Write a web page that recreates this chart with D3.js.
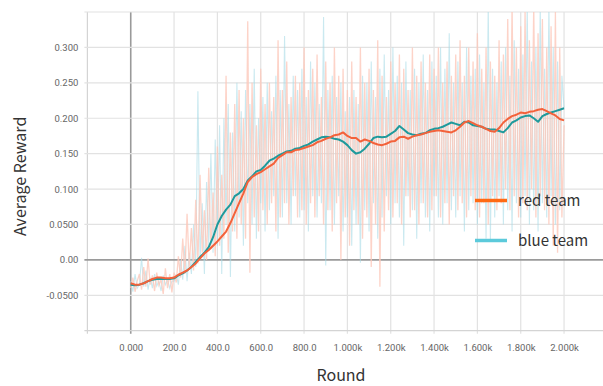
<!DOCTYPE html>
<html>
<head>
<meta charset="utf-8">
<script src="https://cdn.jsdelivr.net/npm/d3@7/dist/d3.min.js"></script>
<style>
  html, body { margin: 0; padding: 0; background: #fff; }
  svg { display: block; }
</style>
</head>
<body>
<svg id="chart" width="603" height="386"></svg>
<script>
// Rounds at which each raw reward sample was recorded (every 10 rounds)
const rawRounds = d3.range(0, 2001, 10);

// Raw average reward per round, red team
const redRaw = [
  -0.040, -0.025, -0.045, -0.030, -0.020, -0.042, -0.010, -0.038, 0.002, -0.035,
  -0.022, -0.044, -0.018, -0.036, -0.028, -0.048, -0.012, -0.040, -0.020, -0.046,
  -0.018, -0.032, 0.005, -0.025, 0.030, -0.020, 0.065, -0.010, 0.045, -0.015,
  0.085, -0.005, 0.120, 0.010, 0.070, 0.000, 0.130, 0.015, 0.095, 0.005,
  0.160, 0.020, 0.120, 0.030, 0.260, 0.010, 0.180, 0.040, 0.220, 0.030,
  0.240, 0.050, 0.200, 0.030, 0.337, -0.018, 0.250, 0.060, 0.190, 0.040,
  0.270, 0.070, 0.220, 0.050, 0.250, 0.080, 0.230, 0.040, 0.310, 0.060,
  0.240, 0.080, 0.280, 0.050, 0.230, 0.090, 0.260, 0.060, 0.250, 0.070,
  0.300, 0.050, 0.240, 0.080, 0.270, 0.060, 0.290, 0.090, 0.230, 0.050,
  0.280, 0.070, 0.250, 0.040, 0.300, 0.080, 0.260, 0.000, 0.270, 0.060,
  0.240, 0.020, 0.280, 0.070, 0.230, 0.050, 0.300, 0.030, 0.250, 0.060,
  0.270, -0.010, 0.240, 0.050, 0.310, -0.038, 0.260, 0.040, 0.230, 0.070,
  0.280, 0.060, 0.250, 0.080, 0.290, 0.050, 0.270, 0.090, 0.240, 0.060,
  0.300, 0.070, 0.260, 0.050, 0.280, 0.080, 0.250, 0.060, 0.290, 0.070,
  0.270, 0.090, 0.300, 0.060, 0.250, 0.080, 0.280, 0.050, 0.260, 0.090,
  0.290, 0.070, 0.310, 0.080, 0.260, 0.060, 0.300, 0.090, 0.280, 0.070,
  0.320, 0.060, 0.270, 0.080, 0.300, 0.050, 0.280, 0.090, 0.260, 0.070,
  0.310, 0.080, 0.290, 0.100, 0.340, 0.070, 0.360, 0.090, 0.300, 0.060,
  0.330, 0.080, 0.350, 0.070, 0.310, 0.100, 0.360, 0.060, 0.320, 0.090,
  0.340, 0.070, 0.300, 0.050, 0.330, 0.020, 0.350, 0.010, 0.300, 0.060,
  0.190
];

// Raw average reward per round, blue team
const blueRaw = [
  -0.030, -0.045, -0.020, -0.040, -0.035, 0.003, -0.038, -0.015, -0.042, -0.025,
  -0.040, -0.020, -0.037, -0.030, -0.044, -0.022, -0.035, -0.028, -0.040, -0.030,
  -0.030, -0.020, -0.035, 0.000, -0.028, 0.020, -0.030, 0.010, -0.020, 0.050,
  -0.010, 0.238, 0.000, 0.080, -0.020, 0.110, 0.020, 0.150, 0.010, 0.170,
  0.020, 0.190, -0.020, 0.200, 0.050, 0.220, -0.024, 0.180, 0.040, 0.250,
  0.060, 0.210, 0.020, 0.240, 0.080, 0.220, 0.050, 0.270, 0.030, 0.200,
  0.080, 0.230, 0.040, 0.250, 0.070, 0.210, 0.090, 0.260, 0.030, 0.240,
  0.060, 0.316, 0.080, 0.220, 0.050, 0.260, 0.090, 0.240, 0.060, 0.270,
  0.070, 0.230, 0.040, 0.280, 0.090, 0.250, 0.060, 0.220, 0.080, 0.343,
  -0.008, 0.240, 0.070, 0.260, 0.050, 0.230, 0.090, 0.250, 0.040, 0.210,
  0.060, 0.230, 0.020, 0.240, 0.050, 0.220, -0.004, 0.260, 0.070, 0.250,
  0.040, 0.280, 0.080, 0.230, 0.030, 0.270, 0.060, 0.290, 0.090, 0.240,
  0.050, 0.300, 0.080, 0.260, 0.060, 0.250, 0.020, 0.280, 0.090, 0.240,
  0.070, 0.270, 0.030, 0.250, 0.080, 0.290, 0.060, 0.240, 0.040, 0.280,
  0.090, 0.260, 0.060, 0.300, 0.050, 0.270, 0.080, 0.320, 0.070, 0.250,
  0.060, 0.280, 0.090, 0.250, 0.040, 0.300, 0.070, 0.260, 0.080, 0.270,
  0.050, 0.290, 0.080, 0.250, 0.030, 0.360, 0.028, 0.270, 0.060, 0.250,
  0.090, 0.280, 0.050, 0.300, 0.070, 0.260, 0.040, 0.310, 0.080, 0.270,
  0.060, 0.290, 0.090, 0.360, 0.050, 0.280, 0.070, 0.300, 0.040, 0.360,
  0.080, 0.270, 0.060, 0.360, 0.090, 0.300, 0.050, 0.280, 0.070, 0.260,
  0.214
];

// Smoothed reward curves (every 20 rounds)
const smoothRounds = d3.range(0, 2001, 20);

const redSmooth = [
  -0.033, -0.035, -0.035, -0.033, -0.030, -0.027, -0.025, -0.025, -0.026, -0.026,
  -0.025, -0.021, -0.018, -0.015, -0.010, -0.005, 0.002, 0.009, 0.014, 0.020,
  0.026, 0.033, 0.040, 0.052, 0.066, 0.080, 0.094, 0.110, 0.117, 0.121,
  0.124, 0.128, 0.132, 0.136, 0.144, 0.148, 0.152, 0.152, 0.155, 0.156,
  0.158, 0.160, 0.162, 0.166, 0.168, 0.171, 0.173, 0.176, 0.177, 0.180,
  0.175, 0.172, 0.172, 0.167, 0.170, 0.168, 0.165, 0.163, 0.162, 0.164,
  0.167, 0.168, 0.173, 0.174, 0.171, 0.174, 0.176, 0.177, 0.179, 0.181,
  0.182, 0.183, 0.182, 0.181, 0.180, 0.183, 0.188, 0.194, 0.196, 0.193,
  0.190, 0.188, 0.185, 0.182, 0.181, 0.186, 0.194, 0.199, 0.203, 0.205,
  0.208, 0.207, 0.209, 0.210, 0.212, 0.213, 0.210, 0.207, 0.204, 0.199,
  0.197
];

const blueSmooth = [
  -0.035, -0.036, -0.035, -0.033, -0.030, -0.028, -0.027, -0.027, -0.027, -0.027,
  -0.026, -0.022, -0.019, -0.015, -0.010, -0.003, 0.004, 0.010, 0.018, 0.032,
  0.050, 0.062, 0.071, 0.078, 0.090, 0.094, 0.100, 0.112, 0.118, 0.125,
  0.127, 0.133, 0.140, 0.143, 0.147, 0.150, 0.153, 0.154, 0.157, 0.158,
  0.161, 0.163, 0.167, 0.170, 0.173, 0.174, 0.173, 0.171, 0.170, 0.167,
  0.162, 0.155, 0.150, 0.152, 0.157, 0.164, 0.172, 0.174, 0.173, 0.174,
  0.178, 0.182, 0.189, 0.184, 0.179, 0.177, 0.176, 0.178, 0.179, 0.183,
  0.185, 0.186, 0.188, 0.191, 0.194, 0.192, 0.190, 0.195, 0.194, 0.190,
  0.189, 0.188, 0.185, 0.184, 0.184, 0.182, 0.180, 0.186, 0.194, 0.197,
  0.201, 0.203, 0.204, 0.200, 0.195, 0.203, 0.206, 0.208, 0.210, 0.212,
  0.214
];

// Axis ticks and their labels
const xTicks = [0, 200, 400, 600, 800, 1000, 1200, 1400, 1600, 1800, 2000];
const xTickLabels = ["0.000", "200.0", "400.0", "600.0", "800.0", "1.000k", "1.200k", "1.400k", "1.600k", "1.800k", "2.000k"];
const yTicks = [-0.05, 0, 0.05, 0.1, 0.15, 0.2, 0.25, 0.3];
const yTickLabels = ["-0.0500", "0.00", "0.0500", "0.100", "0.150", "0.200", "0.250", "0.300"];

const seriesNames = ["red team", "blue team"];

const svg = d3.select("#chart");
const plotLeft = 87.4, plotRight = 607.4, plotTop = 12, plotBottom = 330.7;

const x = d3.scaleLinear().domain([-200, 2200]).range([plotLeft, plotRight]);
const y = d3.scaleLinear().domain([-0.1, 0.35]).range([plotBottom, plotTop]);

// Grid
const grid = svg.append("g");
const xGrid = [-200].concat(xTicks);
grid.selectAll("line.vx").data(xGrid).join("line")
  .attr("x1", d => x(d)).attr("x2", d => x(d))
  .attr("y1", plotTop).attr("y2", plotBottom + 3)
  .attr("stroke", d => d === 0 ? "#9a9a9a" : (d === -200 ? "#d4d4d4" : "#e2e2e2"))
  .attr("stroke-width", d => d === 0 ? 1.6 : 1.2);
const yGrid = [-0.1].concat(yTicks, [0.35]);
grid.selectAll("line.hy").data(yGrid).join("line")
  .attr("x1", plotLeft - 3).attr("x2", plotRight)
  .attr("y1", d => y(d)).attr("y2", d => y(d))
  .attr("stroke", d => d === 0 ? "#9a9a9a" : (d === -0.1 ? "#d4d4d4" : "#e2e2e2"))
  .attr("stroke-width", d => d === 0 ? 1.6 : 1.2);

// Tick labels (drawn through d3 axes, domain lines hidden)
const xAxis = svg.append("g").attr("transform", `translate(0,${plotBottom})`)
  .call(d3.axisBottom(x).tickValues(xTicks)
    .tickFormat((d, i) => xTickLabels[i]).tickSize(0).tickPadding(14));
const yAxis = svg.append("g").attr("transform", `translate(${plotLeft},0)`)
  .call(d3.axisLeft(y).tickValues(yTicks)
    .tickFormat((d, i) => yTickLabels[i]).tickSize(0).tickPadding(9));
[xAxis, yAxis].forEach(a => {
  a.select(".domain").remove();
  a.selectAll("text")
    .attr("fill", "#666")
    .style("font-family", "Roboto, 'Liberation Sans', sans-serif")
    .style("font-size", "9.5px");
});

// Plot clip
svg.append("defs").append("clipPath").attr("id", "plotClip")
  .append("rect").attr("x", plotLeft).attr("y", plotTop)
  .attr("width", plotRight - plotLeft).attr("height", plotBottom - plotTop);

const plot = svg.append("g").attr("clip-path", "url(#plotClip)");

const rawLine = d3.line().x((d, i) => x(rawRounds[i])).y(d => y(d));
const smoothLine = d3.line().x((d, i) => x(smoothRounds[i])).y(d => y(d));

plot.append("path").datum(blueRaw).attr("d", rawLine)
  .attr("fill", "none").attr("stroke", "#a6dbe6").attr("stroke-opacity", 0.6)
  .attr("stroke-width", 1.1);
plot.append("path").datum(redRaw).attr("d", rawLine)
  .attr("fill", "none").attr("stroke", "#fcc8ba").attr("stroke-opacity", 0.8)
  .attr("stroke-width", 1.3);

plot.append("path").datum(blueSmooth).attr("d", smoothLine)
  .attr("fill", "none").attr("stroke", "#1f9a9c").attr("stroke-width", 2)
  .attr("stroke-linejoin", "round");
plot.append("path").datum(redSmooth).attr("d", smoothLine)
  .attr("fill", "none").attr("stroke", "#f3623b").attr("stroke-width", 2)
  .attr("stroke-linejoin", "round");

// Legend
const legendColors = ["#ff6a14", "#5ccadb"];
const legend = svg.append("g");
seriesNames.forEach((name, i) => {
  const ly = 200.5 + i * 40;
  legend.append("line").attr("x1", 475).attr("x2", 507).attr("y1", ly).attr("y2", ly)
    .attr("stroke", legendColors[i]).attr("stroke-width", 3.5);
  legend.append("text").attr("x", 518).attr("y", ly).attr("dy", "0.35em")
    .attr("fill", "#333")
    .style("font-family", "'Noto Sans CJK SC', 'Noto Sans', sans-serif")
    .style("font-size", "15px")
    .text(name);
});

// Axis titles
svg.append("text")
  .attr("transform", `translate(20,${(plotTop + plotBottom) / 2 + 5}) rotate(-90)`)
  .attr("text-anchor", "middle").attr("dy", "0.35em")
  .attr("fill", "#333")
  .style("font-family", "'Noto Sans CJK SC', 'Noto Sans', sans-serif")
  .style("font-size", "16px")
  .text("Average Reward");
svg.append("text")
  .attr("x", 341).attr("y", 375).attr("text-anchor", "middle").attr("dy", "0.35em")
  .attr("fill", "#333")
  .style("font-family", "'Noto Sans CJK SC', 'Noto Sans', sans-serif")
  .style("font-size", "16px")
  .text("Round");
</script>
</body>
</html>
